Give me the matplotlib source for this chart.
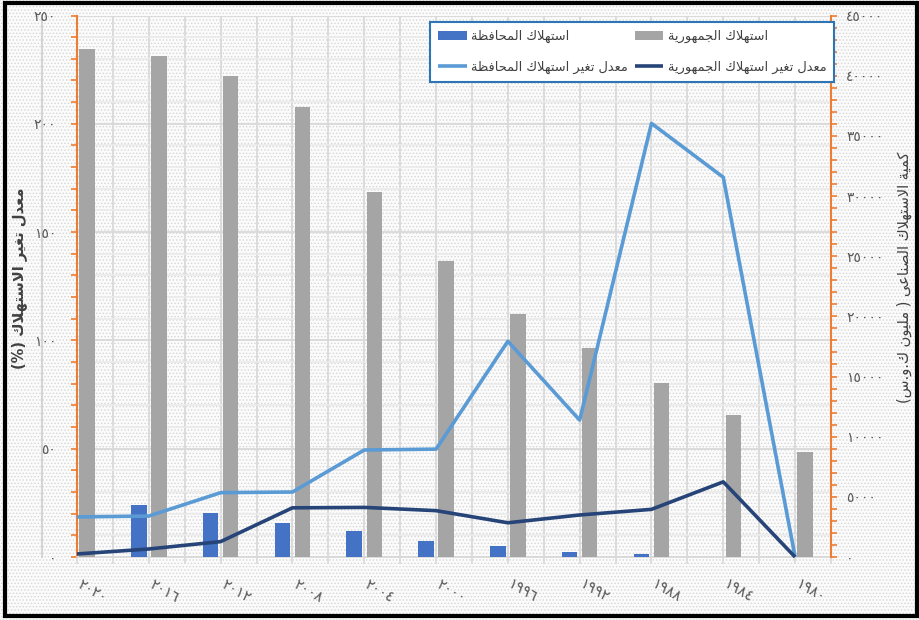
import matplotlib
matplotlib.use('Agg')
import matplotlib.pyplot as plt
import matplotlib.transforms as mtransforms
from matplotlib.ticker import MultipleLocator, FixedLocator
from matplotlib.patches import Rectangle
from matplotlib.lines import Line2D
import numpy as np

plt.rcParams['font.family'] = ['DejaVu Sans']
plt.rcParams['hatch.linewidth'] = 0.6

# ---------------- data ----------------
years = [2020, 2016, 2012, 2008, 2004, 2000, 1996, 1992, 1988, 1984, 1980]
year_labels = ['٢٠٢٠', '٢٠١٦', '٢٠١٢', '٢٠٠٨', '٢٠٠٤', '٢٠٠٠',
               '١٩٩٦', '١٩٩٢', '١٩٨٨', '١٩٨٤', '١٩٨٠']
national_consumption = [42240, 41600, 39960, 37360, 30330, 24580,
                        20180, 17380, 14470, 11790, 8720]
governorate_consumption = [4900, 4320, 3630, 2800, 2160, 1350,
                           910, 440, 250, 0, 0]
governorate_rate = [18.5, 18.9, 29.7, 30.0, 49.4, 49.8,
                    99.6, 63.2, 200.2, 175.3, 0]
national_rate = [1.4, 3.7, 7.1, 22.7, 22.9, 21.4,
                 15.8, 19.4, 22.0, 34.7, 0]
left_ticks = [0, 50, 100, 150, 200, 250]
left_tick_labels = ['٠', '٥٠', '١٠٠', '١٥٠', '٢٠٠', '٢٥٠']
right_ticks = [0, 5000, 10000, 15000, 20000, 25000, 30000, 35000, 40000, 45000]
right_tick_labels = ['٠', '٥٠٠٠', '١٠٠٠٠', '١٥٠٠٠', '٢٠٠٠٠', '٢٥٠٠٠',
                     '٣٠٠٠٠', '٣٥٠٠٠', '٤٠٠٠٠', '٤٥٠٠٠']
legend_labels = ['استهلاك المحافظة', 'معدل تغير استهلاك المحافظة',
                 'استهلاك الجمهورية', 'معدل تغير استهلاك الجمهورية']
left_title = 'معدل تغير الاستهلاك (%)'
right_title = 'كمية الاستهلاك الصناعى ( مليون ك.و.س)'

# ------------- Arabic shaping (presentation forms + visual order) -------------
FORMS = {
    '\u0627': ('\uFE8D', '\uFE8E', None, None),
    '\u0629': ('\uFE93', '\uFE94', None, None),
    '\u062A': ('\uFE95', '\uFE96', '\uFE97', '\uFE98'),
    '\u062C': ('\uFE9D', '\uFE9E', '\uFE9F', '\uFEA0'),
    '\u062D': ('\uFEA1', '\uFEA2', '\uFEA3', '\uFEA4'),
    '\u062F': ('\uFEA9', '\uFEAA', None, None),
    '\u0631': ('\uFEAD', '\uFEAE', None, None),
    '\u0633': ('\uFEB1', '\uFEB2', '\uFEB3', '\uFEB4'),
    '\u0635': ('\uFEB9', '\uFEBA', '\uFEBB', '\uFEBC'),
    '\u0638': ('\uFEC5', '\uFEC6', '\uFEC7', '\uFEC8'),
    '\u0639': ('\uFEC9', '\uFECA', '\uFECB', '\uFECC'),
    '\u063A': ('\uFECD', '\uFECE', '\uFECF', '\uFED0'),
    '\u0641': ('\uFED1', '\uFED2', '\uFED3', '\uFED4'),
    '\u0643': ('\uFED9', '\uFEDA', '\uFEDB', '\uFEDC'),
    '\u0644': ('\uFEDD', '\uFEDE', '\uFEDF', '\uFEE0'),
    '\u0645': ('\uFEE1', '\uFEE2', '\uFEE3', '\uFEE4'),
    '\u0646': ('\uFEE5', '\uFEE6', '\uFEE7', '\uFEE8'),
    '\u0647': ('\uFEE9', '\uFEEA', '\uFEEB', '\uFEEC'),
    '\u0648': ('\uFEED', '\uFEEE', None, None),
    '\u0649': ('\uFEEF', '\uFEF0', None, None),
    '\u064A': ('\uFEF1', '\uFEF2', '\uFEF3', '\uFEF4'),
}
LAM_ALEF = ('\uFEFB', '\uFEFC')


def shape(text):
    tokens = []
    i = 0
    while i < len(text):
        if text[i] == '\u0644' and i + 1 < len(text) and text[i + 1] == '\u0627':
            tokens.append('LA')
            i += 2
        else:
            tokens.append(text[i])
            i += 1

    def joins_next(t):
        return t in FORMS and FORMS[t][2] is not None

    def is_ar(t):
        return t == 'LA' or t in FORMS

    out = []
    for k, t in enumerate(tokens):
        if not is_ar(t):
            out.append(t)
            continue
        prev = k > 0 and joins_next(tokens[k - 1])
        nxt = t != 'LA' and joins_next(t) and k + 1 < len(tokens) and is_ar(tokens[k + 1])
        if t == 'LA':
            out.append(LAM_ALEF[1] if prev else LAM_ALEF[0])
            continue
        iso, fin, ini, med = FORMS[t]
        if prev and nxt:
            out.append(med)
        elif prev:
            out.append(fin)
        elif nxt:
            out.append(ini)
        else:
            out.append(iso)
    mirror = {'(': ')', ')': '('}
    return ''.join(mirror.get(c, c) for c in reversed(out))


# ---------------- figure ----------------
W, H = 920, 620
fig = plt.figure(figsize=(W / 100, H / 100), dpi=100)
fig.patch.set_facecolor('white')


def fx(px):
    return px / W


def fy(py):
    return 1 - py / H


bg = Rectangle((0, 0), 1, 1, transform=fig.transFigure, facecolor='#fbfbfb',
               edgecolor='#d6d6d6', linewidth=0, hatch='.....', zorder=-10)
fig.patches.append(bg)

ORANGE = '#ed7d31'
TXT = '#595959'

ax = fig.add_axes([fx(77), fy(557), fx(831) - fx(77), fy(15.5) - fy(557)])
ax.set_facecolor('none')
axb = ax.twinx()
axl = ax.twinx()

x = np.arange(len(years))

# bars (right axis)
bw = 0.216
b_gov = axb.bar(x - 0.14, governorate_consumption, width=bw, color='#4472c4')
b_nat = axb.bar(x + 0.14, national_consumption, width=bw, color='#a5a5a5')
axb.set_ylim(0, 45000)

# lines (left axis)
l_gov, = axl.plot(x, governorate_rate, color='#5b9bd5', lw=2.6, clip_on=False,
                  solid_joinstyle='round', solid_capstyle='butt')
l_nat, = axl.plot(x, national_rate, color='#264478', lw=2.6, clip_on=False,
                  solid_joinstyle='round', solid_capstyle='butt')
axl.set_ylim(0, 250)
axl.yaxis.set_visible(False)
for s in axl.spines.values():
    s.set_visible(False)

# base axis: left scale, grid, x ticks
ax.set_xlim(0, 10.5)
ax.set_ylim(0, 250)
ax.yaxis.set_major_locator(FixedLocator(left_ticks))
ax.set_yticklabels(left_tick_labels)
ax.yaxis.set_minor_locator(MultipleLocator(10))
ax.tick_params(axis='y', which='both', direction='out', length=4, width=1.2,
               color=ORANGE, labelcolor=TXT, labelsize=10, pad=11)
ax.xaxis.set_major_locator(FixedLocator(list(x)))
ax.set_xticklabels(year_labels, rotation=-30, ha='left', va='top',
                   rotation_mode='anchor')
ax.xaxis.set_minor_locator(FixedLocator(list(np.arange(0.5, 10.6, 1.0))))
ax.tick_params(axis='x', which='both', direction='out', length=5, width=1.2,
               color='#d9d9d9', labelcolor=TXT, labelsize=10.5, pad=9)
offset = mtransforms.ScaledTranslation(4 / 72, 0, fig.dpi_scale_trans)
for lab in ax.get_xticklabels():
    lab.set_transform(lab.get_transform() + offset)

ax.set_axisbelow(True)
ax.grid(True, which='major', axis='both', color='#d9d9d9', lw=1.3)
ax.grid(True, which='minor', axis='x', color='#d9d9d9', lw=1.3)
ax.grid(True, which='minor', axis='y', color='#ebebeb', lw=1.2)

ax.spines['top'].set_visible(False)
ax.spines['right'].set_visible(False)
ax.spines['left'].set_color(ORANGE)
ax.spines['left'].set_linewidth(1.5)
ax.spines['bottom'].set_color('#d9d9d9')
ax.spines['bottom'].set_linewidth(1.3)

# right scale
for name in ['top', 'left', 'bottom']:
    axb.spines[name].set_visible(False)
axb.spines['right'].set_color(ORANGE)
axb.spines['right'].set_linewidth(1.5)
axb.yaxis.set_major_locator(FixedLocator(right_ticks))
axb.set_yticklabels(right_tick_labels)
axb.yaxis.set_minor_locator(MultipleLocator(1000))
axb.tick_params(axis='y', which='both', direction='out', length=4, width=1.2,
                color=ORANGE, labelcolor=TXT, labelsize=10, pad=7)

# axis titles
fig.text(fx(19), fy(278), shape(left_title), rotation=90, ha='center',
         va='center', fontsize=10.5, fontweight='bold', color='#404040')
fig.text(fx(904), fy(277), shape(right_title), rotation=90, ha='center',
         va='center', fontsize=10.5, color='#404040')

# legend
leg = axl.legend([b_gov, l_gov, b_nat, l_nat], [shape(s) for s in legend_labels],
                 ncol=2, loc='upper left', bbox_to_anchor=(fx(430), fy(22)),
                 bbox_transform=fig.transFigure, frameon=True, fancybox=False,
                 edgecolor='#2e75b6', framealpha=1, fontsize=9.4,
                 borderpad=0.6, labelspacing=1.35, handlelength=2.2,
                 columnspacing=0.5, handletextpad=0.35, borderaxespad=0)
leg.get_frame().set_linewidth(1.5)
for t in leg.get_texts():
    t.set_color('#404040')

# decorative thin line and outer frame
fig.add_artist(Line2D([fx(42), fx(42)], [fy(557), fy(15)], transform=fig.transFigure,
                      color='#d4d4d4', lw=1.5, zorder=-1))
fig.patches.append(Rectangle((fx(5), fy(616)), fx(917) - fx(5), fy(3) - fy(616),
                             transform=fig.transFigure, fill=False,
                             edgecolor='black', lw=3, zorder=10))

fig.savefig('out.png', dpi=100)
